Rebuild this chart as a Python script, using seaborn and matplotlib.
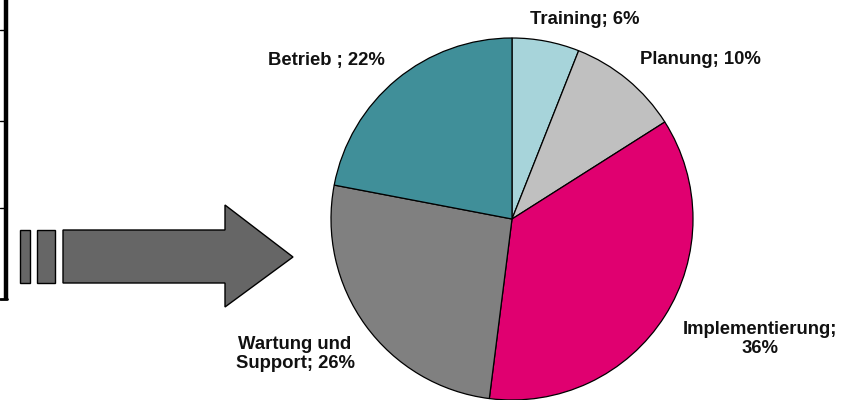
import numpy as np
import matplotlib
matplotlib.use("Agg")
import matplotlib.pyplot as plt
from matplotlib.patches import Polygon, Rectangle
import seaborn as sns

# Daten
kategorien = ["Training", "Planung", "Implementierung", "Wartung und Support", "Betrieb"]
anteile = [6, 10, 36, 26, 22]
beschriftungen = ["Training; 6%", "Planung; 10%", "Implementierung;\n36%",
                  "Wartung und\nSupport; 26%", "Betrieb ; 22%"]
farben = ["#A7D4DA", "#C0C0C0", "#E00070", "#808080", "#408F99"]

# Positionen der Beschriftungen (Pixel, oben links = 0,0)
label_pos = [(585, 20), (700, 60), (760, 339), (295, 354), (326, 61)]

sns.set_theme(style="white")
plt.rcParams["font.family"] = ["Liberation Sans", "DejaVu Sans"]

W, H = 858, 400
fig = plt.figure(figsize=(W / 100, H / 100), dpi=100)
fig.patch.set_facecolor("white")

# Ebene fuer Deko (Pfeil, Linien, Texte) in Pixelkoordinaten
deko = fig.add_axes([0, 0, 1, 1])
deko.set_xlim(0, W)
deko.set_ylim(H, 0)
deko.axis("off")

# schwarze Linie links mit Teilstrichen
deko.plot([5.5, 5.5], [0, 300], color="black", lw=3.2, solid_capstyle="butt")
for y in [30, 121, 208]:
    deko.plot([0, 5], [y, y], color="black", lw=1.0)
deko.plot([0, 7], [298.5, 298.5], color="black", lw=2.0)

# Pfeil mit Balken
grau = "#666666"
for x0, x1 in [(20, 30), (37, 55)]:
    deko.add_patch(Rectangle((x0, 230), x1 - x0, 53, facecolor=grau,
                             edgecolor="black", lw=1.0))
pfeil = [(63, 230), (225, 230), (225, 205), (293, 257), (225, 307), (225, 283), (63, 283)]
deko.add_patch(Polygon(pfeil, closed=True, facecolor=grau, edgecolor="black", lw=1.0))

# Kreisdiagramm
cx, cy, r = 512, 219, 181
ax = fig.add_axes([(cx - r) / W, (H - cy - r) / H, 2 * r / W, 2 * r / H])
ax.pie(anteile, colors=farben, startangle=90, counterclock=False, radius=1,
       wedgeprops=dict(edgecolor="black", linewidth=0.9))
ax.set_xlim(-1, 1)
ax.set_ylim(-1, 1)
ax.axis("off")

for text, (x, y) in zip(beschriftungen, label_pos):
    deko.text(x, y, text, ha="center", va="center", fontsize=13.3,
              fontweight="bold", color="#111111", linespacing=1.15, zorder=5)

fig.savefig("out.png", dpi=100, facecolor="white")
